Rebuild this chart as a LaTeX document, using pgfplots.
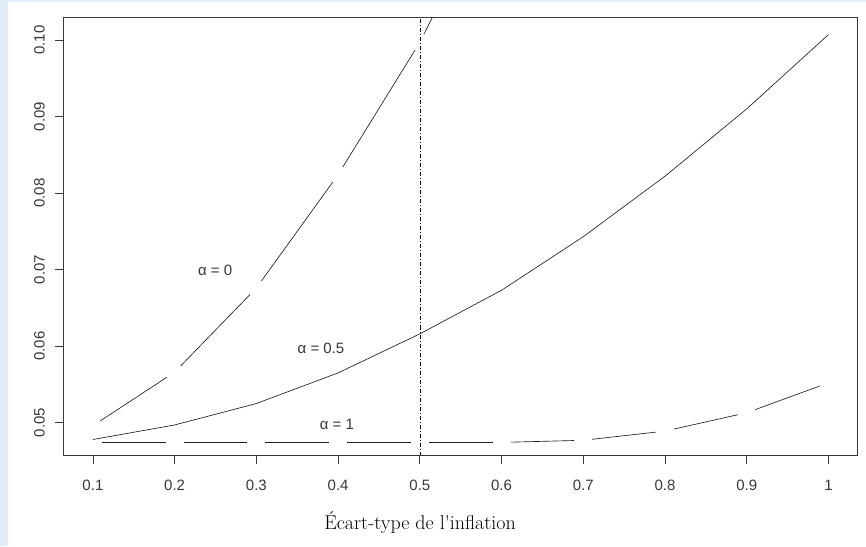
\documentclass[border=0pt]{standalone}
\usepackage{pgfplots}
\pgfplotsset{compat=1.18}
\usepackage{fontspec}
\newfontfamily\arial{Liberation Sans}
\definecolor{bluebg}{RGB}{226,235,248}
\definecolor{boxc}{RGB}{55,55,55}
\definecolor{linec}{RGB}{30,30,30}
\pgfplotstableread{
x y
0.1 0.0496
0.2 0.0566
0.3 0.0676
0.4 0.0824
0.5 0.0997
0.6 0.1209
}\alphazero
\pgfplotstableread{
x y
0.1 0.0478
0.2 0.0497
0.3 0.0525
0.4 0.0565
0.5 0.0616
0.6 0.0673
0.7 0.0743
0.8 0.0822
0.9 0.0910
1.0 0.1007
}\alphahalf
\pgfplotstableread{
x y
0.1 0.0474
0.2 0.0474
0.3 0.0474
0.4 0.0474
0.5 0.0474
0.6 0.04742
0.7 0.0477
0.8 0.0489
0.9 0.0513
1.0 0.0552
}\alphaone
\begin{document}
\begin{tikzpicture}[x=1pt,y=1pt]
\fill[bluebg] (0,0) rectangle (866,546);
\fill[white] (8,0) rectangle (866,544);
\useasboundingbox (0,0) rectangle (866,546);
\begin{axis}[
  scale only axis, width=793.5pt, height=437.5pt,
  at={(63.5pt,90.5pt)}, anchor=south west,
  xmin=0.064, xmax=1.0349, ymin=0.04571, ymax=0.10287,
  axis line style={boxc, line width=1pt},
  tick style={boxc, line width=0.8pt},
  tick align=outside, major tick length=8.5pt,
  xtick={0.1,0.2,0.3,0.4,0.5,0.6,0.7,0.8,0.9,1},
  ytick={0.05,0.06,0.07,0.08,0.09,0.10},
  xtick pos=left, ytick pos=left,
  scaled x ticks=false, scaled y ticks=false,
  /pgf/number format/assume math mode=true,
  ticklabel style={font=\arial\fontsize{15}{15}\selectfont, text=boxc},
  xticklabel style={anchor=north, inner sep=0pt, /pgf/number format/fixed, /pgf/number format/precision=1},
  yticklabel style={rotate=90, anchor=south, inner sep=0pt, /pgf/number format/fixed, /pgf/number format/fixed zerofill, /pgf/number format/precision=2},
  xticklabel shift=16pt, yticklabel shift=10pt,
  axis on top,
  clip marker paths=true,
]
\addplot[linec, line width=0.65pt, mark=*, mark size=8.5pt, mark options={draw=white, fill=white, line width=0pt}] table {\alphaone};
\addplot[linec, line width=0.65pt, mark=*, mark size=8.5pt, mark options={draw=white, fill=white, line width=0pt}] table {\alphazero};
\addplot[linec, line width=0.65pt] table {\alphahalf};
\addplot[black, line width=0.6pt, dash pattern=on 4pt off 2pt on 1pt off 2pt] coordinates {(0.5,0.04571) (0.5,0.10287)};
\node[font=\arial\fontsize{15}{15}\selectfont, text=boxc] at (axis cs:0.2495,0.06984) {α = 0};
\node[font=\arial\fontsize{15}{15}\selectfont, text=boxc] at (axis cs:0.3791,0.05971) {α = 0.5};
\node[font=\arial\fontsize{15}{15}\selectfont, text=boxc] at (axis cs:0.3985,0.04982) {α = 1};
\end{axis}
\node[font=\fontsize{20}{20}\selectfont, text=black] at (420,23) {Écart-type de l\textquotesingle inflation};
\end{tikzpicture}
\end{document}
